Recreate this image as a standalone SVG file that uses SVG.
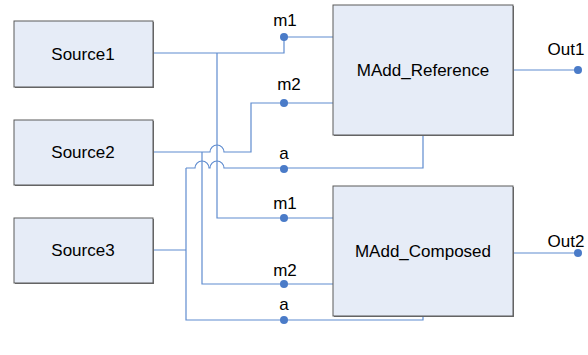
<svg xmlns="http://www.w3.org/2000/svg" width="588" height="355" viewBox="0 0 588 355">
  <style>
    .box { fill: #e6ecf7; stroke: #5a5a5a; stroke-width: 1; }
    .shadow { fill: #6e6e6e; }
    .label { font-family: "Liberation Sans", Arial, sans-serif; font-size: 17px; fill: #000; text-anchor: middle; }
    .port { font-family: "Liberation Sans", Arial, sans-serif; font-size: 17px; fill: #000; text-anchor: middle; }
    .wire { fill: none; stroke: #5f8ccf; stroke-width: 1.2; }
    .dot { fill: #4a7bc8; }
  </style>

  <!-- connectors -->
  <g id="connectors">
    <!-- Source1 -> m1 (reference) and branch to m1 (composed) -->
    <path class="wire" d="M153,53 H284 V37 H333"/>
    <path class="wire" d="M217,53 V218 H333"/>
    <!-- Source2 -> m2 (reference), hop over x=217, and branch to m2 (composed) -->
    <path class="wire" d="M153,152 H210 A7,7 0 0 1 224,152 H251 V103 H333"/>
    <path class="wire" d="M202,152 V284 H333"/>
    <!-- Source3 -> a inputs of both blocks -->
    <path class="wire" d="M153,250 H186"/>
    <path class="wire" d="M186,168 V320 H423 V316"/>
    <path class="wire" d="M186,168 H195 A7,7 0 0 1 209,168 H210 A7,7 0 0 1 224,168 H423 V135"/>
    <!-- outputs -->
    <path class="wire" d="M513,70 H578"/>
    <path class="wire" d="M513,253 H578"/>
  </g>

  <!-- port markers and labels -->
  <g id="ports">
    <circle class="dot" cx="284" cy="37" r="4"/>
    <text class="port" x="285" y="26">m1</text>
    <circle class="dot" cx="284" cy="103" r="4"/>
    <text class="port" x="289" y="90">m2</text>
    <circle class="dot" cx="284" cy="169" r="4"/>
    <text class="port" x="284" y="159">a</text>
    <circle class="dot" cx="284" cy="218" r="4"/>
    <text class="port" x="285" y="209">m1</text>
    <circle class="dot" cx="284" cy="284" r="4"/>
    <text class="port" x="285" y="276">m2</text>
    <circle class="dot" cx="284" cy="320" r="4"/>
    <text class="port" x="284" y="310">a</text>
    <circle class="dot" cx="578" cy="70" r="4"/>
    <text class="port" x="566" y="55">Out1</text>
    <circle class="dot" cx="578" cy="253" r="4"/>
    <text class="port" x="566" y="247">Out2</text>
  </g>

  <!-- nodes -->
  <g id="source1">
    <rect class="shadow" x="15" y="22" width="139" height="66"/>
    <rect class="box" x="14" y="21" width="139" height="66"/>
    <text class="label" x="83" y="60">Source1</text>
  </g>
  <g id="source2">
    <rect class="shadow" x="15" y="121" width="139" height="65"/>
    <rect class="box" x="14" y="120" width="139" height="65"/>
    <text class="label" x="83" y="158">Source2</text>
  </g>
  <g id="source3">
    <rect class="shadow" x="15" y="219" width="139" height="65"/>
    <rect class="box" x="14" y="218" width="139" height="65"/>
    <text class="label" x="83" y="256">Source3</text>
  </g>
  <g id="madd_reference">
    <rect class="shadow" x="334" y="6" width="180" height="130"/>
    <rect class="box" x="333" y="5" width="180" height="130"/>
    <text class="label" x="423" y="76">MAdd_Reference</text>
  </g>
  <g id="madd_composed">
    <rect class="shadow" x="334" y="187" width="180" height="130"/>
    <rect class="box" x="333" y="186" width="180" height="130"/>
    <text class="label" x="423" y="257">MAdd_Composed</text>
  </g>
</svg>
